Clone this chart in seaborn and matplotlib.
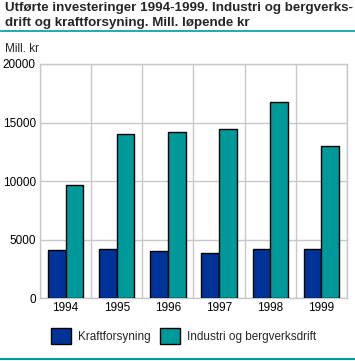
import matplotlib
matplotlib.use("Agg")
import matplotlib.pyplot as plt
import matplotlib.ticker as ticker
from matplotlib.lines import Line2D
from matplotlib.patches import Patch
import pandas as pd
import seaborn as sns

years = ["1994", "1995", "1996", "1997", "1998", "1999"]
kraft = [4100, 4250, 4000, 3900, 4200, 4250]
industri = [9650, 14000, 14200, 14450, 16750, 13000]
series_names = ["Kraftforsyning", "Industri og bergverksdrift"]
title_lines = [
    "Utførte investeringer 1994-1999. Industri og bergverks-",
    "drift og kraftforsyning. Mill. løpende kr",
]

df = pd.DataFrame(
    {
        "year": years * 2,
        "value": kraft + industri,
        "serie": [series_names[0]] * len(years) + [series_names[1]] * len(years),
    }
)

sns.set_theme(style="white")
plt.rcParams["font.family"] = ["Liberation Sans", "DejaVu Sans"]

color_blue = "#003399"
color_teal = "#009999"
grid_color = "#c8c8c8"

W, H = 355, 361
fig = plt.figure(figsize=(W / 100, H / 100), dpi=100)
ax = fig.add_axes([40 / W, 1 - 298.3 / H, 307 / W, 234.3 / H])

sns.barplot(
    data=df,
    x="year",
    y="value",
    hue="serie",
    palette=[color_blue, color_teal],
    width=0.69,
    edgecolor="black",
    linewidth=1.0,
    saturation=1,
    legend=False,
    ax=ax,
    zorder=3,
)

ax.set_xlim(-0.5, len(years) - 0.5)
ax.set_ylim(0, 20000)
ax.yaxis.set_major_locator(ticker.MultipleLocator(5000))
ax.xaxis.set_minor_locator(ticker.FixedLocator([i - 0.5 for i in range(len(years) + 1)]))
ax.grid(axis="y", which="major", color=grid_color, linewidth=1.0, zorder=0)
ax.grid(axis="x", which="minor", color=grid_color, linewidth=1.0, zorder=0)
ax.set_axisbelow(True)
for spine in ax.spines.values():
    spine.set_color(grid_color)
    spine.set_linewidth(1.0)

ax.tick_params(axis="both", which="both", length=0, labelsize=8.5, colors="black", pad=3)
ax.set_xlabel("")
ax.set_ylabel("")

# title, bold face, fitted to the width of the reference line
title_family = ["Liberation Sans Narrow", "Liberation Sans", "DejaVu Sans"]
t1 = fig.text(5 / W, 1 - 2 / H, title_lines[0], ha="left", va="top",
              fontsize=11, fontweight="bold", family=title_family)
renderer = fig.canvas.get_renderer()
width_px = t1.get_window_extent(renderer).width
size = 11 * 347 / width_px
t1.set_fontsize(size)
fig.text(5 / W, 1 - 17 / H, title_lines[1], ha="left", va="top",
         fontsize=size, fontweight="bold", family=title_family)

fig.add_artist(Line2D([0, 1], [1 - 31 / H, 1 - 31 / H], color=color_teal, linewidth=1.2))
fig.add_artist(Line2D([0, 1], [1 - 359 / H, 1 - 359 / H], color=color_teal, linewidth=1.5))
fig.text(5 / W, 1 - 49 / H, "Mill. kr", ha="left", va="center", fontsize=8.5)

handles = [
    Patch(facecolor=color_blue, edgecolor="black", linewidth=1.0),
    Patch(facecolor=color_teal, edgecolor="black", linewidth=1.0),
]
fig.legend(
    handles,
    series_names,
    loc="center",
    bbox_to_anchor=(0.517, 1 - 336 / H),
    ncol=2,
    frameon=False,
    fontsize=8.5,
    handlelength=1.7,
    handleheight=1.7,
    handletextpad=0.6,
    columnspacing=0.8,
)

fig.savefig("out.png", dpi=100)
plt.close(fig)
